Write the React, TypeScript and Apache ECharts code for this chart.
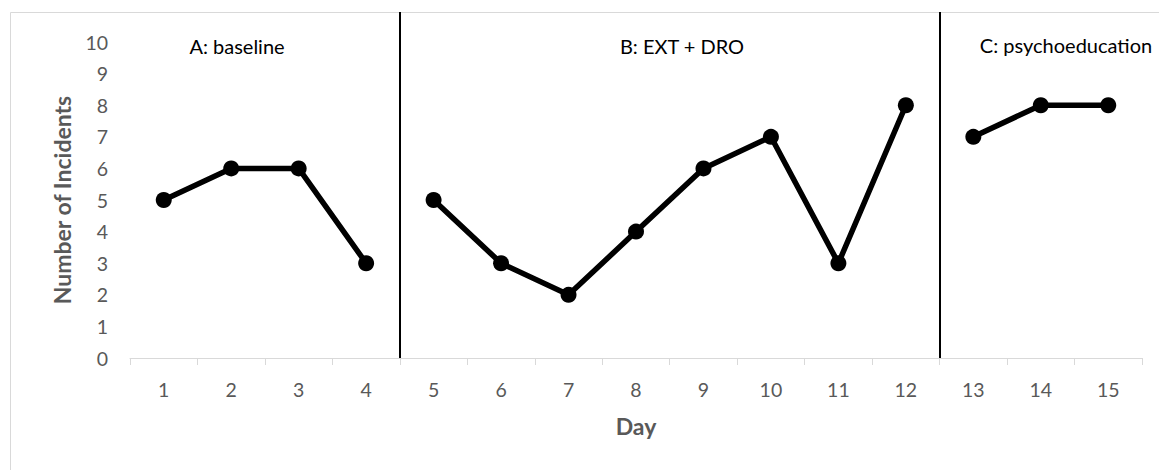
import React, { useEffect, useRef } from "react";
import * as echarts from "echarts";

const dayLabels = ["1","2","3","4","5","6","7","8","9","10","11","12","13","14","15"];
const phaseADays = [1, 2, 3, 4];
const phaseAValues = [5, 6, 6, 3];
const phaseBDays = [5, 6, 7, 8, 9, 10, 11, 12];
const phaseBValues = [5, 3, 2, 4, 6, 7, 3, 8];
const phaseCDays = [13, 14, 15];
const phaseCValues = [7, 8, 8];
const phaseBoundaries = [4.5, 12.5];
const phaseNames = ["A: baseline", "B: EXT + DRO", "C: psychoeducation"];
const yTicks = [0, 10];

const FONT = "Lato, 'Noto Sans', sans-serif";

function pairs(days: number[], vals: number[]) {
  return days.map((d, i) => [d, vals[i]]);
}

export default function App() {
  const ref = useRef<HTMLDivElement>(null);
  useEffect(() => {
    if (!ref.current) return;
    const chart = echarts.init(ref.current, undefined, { renderer: "svg" });
    const lineStyle = { color: "#000", width: 5.5 };
    const itemStyle = { color: "#000" };
    const mkSeries = (data: number[][], extra: any = {}) => ({
      type: "line",
      xAxisIndex: 1,
      yAxisIndex: 0,
      data,
      symbol: "circle",
      symbolSize: 16,
      lineStyle,
      itemStyle,
      silent: true,
      ...extra,
    });
    const phaseText = (i: number, x: number, y: number) => ({
      type: "text",
      x,
      y,
      style: { text: phaseNames[i], fill: "#000", font: `20px ${FONT}`, align: "center", verticalAlign: "middle" },
    });
    chart.setOption({
      animation: false,
      textStyle: { fontFamily: FONT },
      grid: { left: 130, right: 17, top: 12, bottom: 112 },
      xAxis: [
        {
          type: "category",
          data: dayLabels,
          boundaryGap: true,
          axisLine: { lineStyle: { color: "#d9d9d9", width: 1 } },
          axisTick: { show: true, length: 7, lineStyle: { color: "#d9d9d9" } },
          axisLabel: { color: "#595959", fontSize: 19.5, margin: 21, fontFamily: FONT },
          name: "Day",
          nameLocation: "middle",
          nameGap: 56,
          nameTextStyle: { color: "#595959", fontSize: 23, fontWeight: "bold", fontFamily: FONT },
        },
        {
          type: "value",
          min: 0.5,
          max: 15.5,
          show: false,
        },
      ],
      yAxis: {
        type: "value",
        min: yTicks[0],
        max: 10.95,
        interval: 1,
        axisLine: { show: false },
        axisTick: { show: false },
        splitLine: { show: false },
        axisLabel: {
          color: "#595959",
          fontSize: 19.5,
          margin: 22,
          fontFamily: FONT,
          formatter: (v: number) => (Number.isInteger(v) && v <= yTicks[1] ? String(v) : ""),
        },
        name: "Number of Incidents",
        nameLocation: "middle",
        nameGap: 57,
        nameTextStyle: {
          color: "#595959",
          fontSize: 23,
          fontWeight: "bold",
          fontFamily: FONT,
          padding: [0, 30, 0, 0],
        },
      },
      series: [
        mkSeries(pairs(phaseADays, phaseAValues), {
          markLine: {
            silent: true,
            symbol: "none",
            label: { show: false },
            lineStyle: { color: "#000", width: 2, type: "solid" },
            data: phaseBoundaries.map((b) => ({ xAxis: b })),
          },
        }),
        mkSeries(pairs(phaseBDays, phaseBValues)),
        mkSeries(pairs(phaseCDays, phaseCValues)),
      ],
      graphic: [
        {
          type: "rect",
          shape: { x: 10.5, y: 12.5, width: 1200, height: 500 },
          style: { fill: "none", stroke: "#d9d9d9", lineWidth: 1 },
          silent: true,
        },
        phaseText(0, 237, 46),
        phaseText(1, 682, 46),
        phaseText(2, 1066, 45),
      ],
    });
    return () => chart.dispose();
  }, []);
  return (
    <div
      ref={ref}
      style={{ position: "fixed", left: 0, top: 0, width: 1159, height: 470, background: "#fff" }}
    />
  );
}
